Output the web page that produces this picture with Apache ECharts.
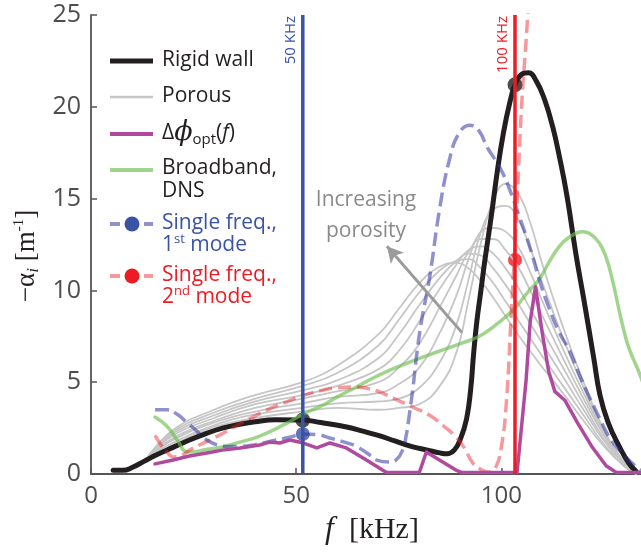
<!DOCTYPE html>
<html><head><meta charset="utf-8">
<script src="https://cdn.jsdelivr.net/npm/echarts@6/dist/echarts.min.js"></script>
<style>html,body{margin:0;padding:0;background:#fff}#c{width:641px;height:552px}</style>
</head><body><div id="c"></div>
<script>
// ---------- data ----------
const xTicks = [0, 50, 100];
const yTicks = [0, 5, 10, 15, 20, 25];
const f50 = 51.6;     // "50 KHz" marker line
const f100 = 103.3;   // "100 KHz" marker line

const rigidX = [5.4, 7.8, 10, 13, 16, 20, 24, 28, 32, 36, 40, 45, 51.5, 56, 62, 66, 70, 74, 78, 82, 85, 86.7, 88.5, 90, 91.5, 92.5, 93.2, 94, 95, 96, 97.5, 99, 100.5, 102, 103.3, 104.8, 106.6, 108.5, 110.5, 112.5, 114.2, 116, 118.2, 120, 122.5, 124, 126, 128.7, 131, 132.8];
const rigidY = [0.2, 0.2, 0.35, 0.7, 1.05, 1.45, 1.85, 2.2, 2.5, 2.7, 2.85, 2.95, 2.94, 2.8, 2.57, 2.35, 2.1, 1.8, 1.5, 1.3, 1.15, 1.1, 1.3, 1.9, 3.0, 4.6, 6.5, 8.3, 10.0, 11.7, 14.0, 16.5, 18.6, 20.2, 21.2, 21.75, 21.85, 21.4, 20.4, 18.9, 17.2, 15.1, 11.9, 9.6, 6.3, 4.3, 2.8, 1.5, 0.6, 0.15];

const porousX = [13.6, 20, 30, 40, 51.5, 60, 70, 75, 80, 85, 89, 92, 95, 98, 101, 104, 107, 110, 115, 120, 125, 130, 132.8];
const porous1 = [0.85, 2.4, 3.5, 4.3, 5.0, 5.9, 7.6, 9.0, 10.4, 11.3, 11.5, 11.2, 10.5, 9.6, 8.6, 7.6, 6.7, 5.8, 4.4, 2.9, 1.5, 0.4, 0];
const porous2 = [0.85, 2.3, 3.35, 4.1, 4.8, 5.5, 7.0, 8.4, 9.9, 11.1, 11.6, 11.7, 11.2, 10.4, 9.4, 8.4, 7.4, 6.4, 4.8, 3.2, 1.6, 0.4, 0];
const porous3 = [0.85, 2.2, 3.2, 3.95, 4.55, 5.1, 6.3, 7.6, 9.2, 10.7, 11.6, 12.0, 11.9, 11.2, 10.3, 9.3, 8.2, 7.1, 5.3, 3.5, 1.8, 0.5, 0];
const porous4 = [0.85, 2.1, 3.05, 3.8, 4.3, 4.8, 5.7, 6.7, 8.3, 10.1, 11.4, 12.2, 12.4, 12.0, 11.2, 10.2, 9.0, 7.8, 5.8, 3.8, 1.9, 0.5, 0];
const porous5 = [0.85, 1.95, 2.9, 3.6, 4.1, 4.5, 5.0, 5.8, 7.1, 9.1, 10.8, 12.1, 12.8, 12.8, 12.2, 11.3, 10.0, 8.6, 6.3, 4.1, 2.1, 0.5, 0];
const porous6 = [0.85, 1.85, 2.8, 3.4, 3.85, 4.2, 4.4, 4.9, 5.8, 7.7, 9.7, 11.7, 13.2, 13.4, 13.2, 12.4, 11.0, 9.4, 6.8, 4.4, 2.2, 0.6, 0];
const porous7 = [0.85, 1.7, 2.65, 3.25, 3.6, 3.85, 3.95, 4.1, 4.7, 6.1, 8.1, 10.6, 13.2, 14.4, 14.6, 13.9, 12.3, 10.4, 7.4, 4.7, 2.3, 0.6, 0];
const porous8 = [0.85, 1.6, 2.55, 3.05, 3.4, 3.6, 3.5, 3.6, 3.8, 4.8, 6.6, 9.5, 12.6, 14.9, 15.8, 15.3, 13.7, 11.4, 8.0, 5.0, 2.4, 0.6, 0];
const porousAll = [porous1, porous2, porous3, porous4, porous5, porous6, porous7, porous8];

const phaseX = [15.6, 20, 24, 28.2, 32, 36.3, 41.1, 43.5, 46, 48.4, 51.6, 55, 58.2, 62.2, 67.1, 72, 80, 81.7, 89, 90.5, 103.8, 106, 107, 108.3, 110, 111.5, 113, 115.5, 118.5, 122, 125.5, 128, 134];
const phaseY = [0.55, 0.76, 0.98, 1.14, 1.3, 1.42, 1.58, 1.74, 1.69, 1.85, 1.7, 1.42, 1.69, 1.42, 0.76, 0.08, 0.08, 1.2, 0.2, 0.08, 0.08, 5.1, 8.3, 10.2, 7.6, 5.6, 4.5, 4.0, 2.8, 1.5, 0.45, 0.08, 0.08];

const dnsX = [15.6, 18.5, 21, 23.4, 24.8, 28, 32, 36, 40.3, 44, 48.4, 52, 56.5, 60, 64.7, 68.5, 72.8, 76, 80, 85, 90, 94.6, 98.5, 102.7, 106.8, 109.2, 111.5, 114.1, 116.5, 119.7, 121.5, 123.8, 125.5, 127, 129.4, 131, 133.6, 135];
const dnsY = [3.1, 2.6, 1.85, 1.2, 1.2, 1.33, 1.47, 1.72, 2.0, 2.35, 2.85, 3.3, 3.75, 4.2, 4.74, 5.2, 5.66, 5.95, 6.3, 6.7, 7.1, 7.5, 8.1, 8.9, 10.0, 10.6, 11.5, 12.4, 12.9, 13.2, 13.1, 12.6, 11.8, 10.6, 8.2, 6.9, 5.5, 4.6];

const mode1X = [15.6, 18.5, 21, 23.4, 25.5, 27.3, 29, 30.6, 33, 36, 40, 44, 48.4, 51.6, 55, 58.2, 61.5, 64.7, 67.5, 69.6, 72.7, 74.5, 75.9, 76.8, 77.6, 78.5, 79.3, 80.5, 82.5, 84.9, 87.3, 89.5, 92.3, 94.5, 96.5, 98.5, 100.3, 102.5, 104.4, 107, 109.2, 111.5, 114.1, 116.5, 119, 121.4, 124, 126.3, 129.5, 132.8, 134];
const mode1Y = [3.5, 3.5, 3.25, 2.8, 2.4, 2.0, 1.75, 1.6, 1.5, 1.5, 1.6, 1.8, 2.0, 2.18, 2.15, 1.96, 1.75, 1.5, 1.1, 0.76, 0.65, 0.8, 1.3, 2.1, 3.3, 4.8, 6.4, 8.3, 10.7, 14.4, 17.1, 18.5, 19.0, 18.7, 17.8, 17.1, 16.4, 15.2, 14.0, 12.3, 10.6, 9.1, 7.7, 6.75, 5.4, 4.2, 3.0, 2.0, 1.1, 0.4, 0.2];

const mode2X = [15.6, 17, 18.5, 20, 22, 24, 28, 32, 36, 40.3, 44, 48.4, 52, 56.5, 60, 64.7, 67.5, 70.3, 74, 78.3, 82.5, 86, 89, 91, 93, 95, 97, 98.5, 100, 101.2, 102.4, 103.6, 104.9, 106, 107];
const mode2Y = [2.1, 1.6, 1.2, 0.93, 1.0, 1.3, 1.75, 2.2, 2.7, 3.2, 3.6, 4.0, 4.3, 4.57, 4.7, 4.74, 4.65, 4.47, 4.1, 3.65, 3.2, 2.6, 2.0, 1.4, 0.6, 0.25, 0.1, 0.3, 1.5, 3.9, 8.8, 13.8, 20.0, 23.6, 27.0];

const rigidDots = [[f50, 2.94], [f100, 21.2]];
const mode1Dot = [[f50, 2.18]];
const mode2Dot = [[f100, 11.66]];
const arrowTail = [90.4, 7.7];
const arrowHead = [72.1, 12.4];

// ---------- styles ----------
const SANS = '"Open Sans", sans-serif';
const SERIF = '"Liberation Serif", serif';
const C_BLACK = '#231F20', C_GRAY = '#C6C6C6', C_MAG = '#B04A9F';
const C_GREEN = 'rgba(110,190,80,0.65)', C_BLUEDASH = 'rgba(40,45,160,0.52)', C_REDDASH = 'rgba(237,28,36,0.45)';
const C_BLUE = '#3A53A4', C_RED = '#ED1C24';

const zip = (xs, ys) => xs.map((x, i) => [x, ys[i]]);
const lineSeries = (data, color, width, extra) => Object.assign({
  type: 'line', data, showSymbol: false, symbol: 'none', smooth: 0.45,
  lineStyle: { color, width, cap: 'round', join: 'round' }, silent: true, animation: false
}, extra || {});

const series = [];
porousAll.forEach((ys, i) => {
  const s = lineSeries(zip(porousX, ys), C_GRAY, 1.8);
  if (i === 0) {
    s.markLine = {
      silent: true, symbol: ['none', 'arrow'], symbolSize: [13, 16], animation: false,
      lineStyle: { color: '#9B9B9B', width: 3, type: 'solid' }, label: { show: false },
      data: [[{ coord: arrowTail }, { coord: arrowHead }]]
    };
  }
  series.push(s);
});
series.push(lineSeries(zip(rigidX, rigidY), C_BLACK, 5));
series.push(lineSeries(zip(dnsX, dnsY), C_GREEN, 3.5));
series.push(lineSeries(zip(mode2X, mode2Y), C_REDDASH, 3.5, { lineStyle: { color: C_REDDASH, width: 3.5, type: [13, 6] } }));
series.push(lineSeries(zip(mode1X, mode1Y), C_BLUEDASH, 3.5, { lineStyle: { color: C_BLUEDASH, width: 3.5, type: [14, 6] } }));
series.push(lineSeries(zip(phaseX, phaseY), C_MAG, 3.5, { smooth: false }));
series.push(lineSeries([[f50, 0], [f50, 25]], C_BLUE, 3.5, { smooth: false, lineStyle: { color: C_BLUE, width: 3.5 } }));
series.push(lineSeries([[f100, 0], [f100, 25]], C_RED, 3.5, { smooth: false, lineStyle: { color: C_RED, width: 3.5 } }));
series.push({ type: 'scatter', data: rigidDots, symbolSize: 15, itemStyle: { color: C_BLACK }, silent: true, animation: false });
series.push({ type: 'scatter', data: mode1Dot, symbolSize: 14, itemStyle: { color: C_BLUE }, silent: true, animation: false });
series.push({ type: 'scatter', data: mode2Dot, symbolSize: 14, itemStyle: { color: C_RED }, silent: true, animation: false });

const chart = echarts.init(document.getElementById('c'), null, { renderer: 'canvas' });
chart.setOption({
  animation: false,
  backgroundColor: '#fff',
  grid: { left: 91, right: 0, top: 15, bottom: 78, containLabel: false },
  xAxis: {
    type: 'value', min: 0, max: 134, interval: 50,
    axisLine: { lineStyle: { color: '#555', width: 1.8 } },
    axisTick: { inside: true, length: 6, lineStyle: { color: '#555', width: 1.5 } },
    axisLabel: { color: '#4D4D4D', fontSize: 24, fontFamily: SANS, margin: 10, showMaxLabel: false,
      formatter: v => xTicks.includes(v) ? String(v) : '' },
    splitLine: { show: false }
  },
  yAxis: {
    type: 'value', min: 0, max: 25, interval: 5,
    axisLine: { show: true, lineStyle: { color: '#555', width: 1.8 } },
    axisTick: { show: true, inside: true, length: 6, lineStyle: { color: '#555', width: 1.5 } },
    axisLabel: { color: '#4D4D4D', fontSize: 25, fontFamily: SANS, margin: 10,
      formatter: v => yTicks.includes(v) ? String(v) : '' },
    splitLine: { show: false }
  },
  series
});

// ---------- annotations / legend (graphic) ----------
const p50 = chart.convertToPixel({ gridIndex: 0 }, [f50, 25]);
const p100 = chart.convertToPixel({ gridIndex: 0 }, [f100, 25]);
const LX0 = 110, LX1 = 153, TX = 162, FS = 21;

const g = [];
const legLine = (y, color, width, dash) => g.push({ type: 'line', shape: { x1: LX0, y1: y, x2: LX1, y2: y }, style: { stroke: color, lineWidth: width, lineDash: dash || null }, z: 100 });
const legText = (y, text, color) => g.push({ type: 'text', x: TX, y, style: { text, fill: color, fontSize: FS, fontFamily: SANS, align: 'left', verticalAlign: 'middle', lineHeight: 22 }, z: 100 });

legLine(61, C_BLACK, 5); legText(60, 'Rigid wall', C_BLACK);
legLine(97, C_GRAY, 2.5); legText(96, 'Porous', C_BLACK);
legLine(134, C_MAG, 4);
g.push({ type: 'text', x: TX, y: 133, z: 100, style: {
  text: '{n|Δ}{phi|ϕ}{sub|opt}{n|(}{it|f}{n|)}', fill: C_BLACK, align: 'left', verticalAlign: 'middle',
  rich: {
    n: { fontSize: FS, fontFamily: SANS, lineHeight: 28, fill: C_BLACK },
    phi: { fontSize: 27, fontFamily: '"DejaVu Serif", serif', fontStyle: 'italic', lineHeight: 28, fill: C_BLACK },
    sub: { fontSize: 15, fontFamily: SANS, lineHeight: 18, verticalAlign: 'bottom', fill: C_BLACK },
    it: { fontSize: FS, fontFamily: SANS, fontStyle: 'italic', lineHeight: 28, fill: C_BLACK }
  } } });
legLine(170, C_GREEN, 4); legText(168, 'Broadband,', C_BLACK); legText(191, 'DNS', C_BLACK);

legLine(224, C_BLUEDASH, 4, [10, 24]);
g.push({ type: 'circle', shape: { cx: 132, cy: 224, r: 7.5 }, style: { fill: C_BLUE }, z: 101 });
legText(223, 'Single freq.,', C_BLUE);
const supRich = (col) => ({
  n: { fontSize: FS, fontFamily: SANS, lineHeight: 24, fill: col },
  sup: { fontSize: 13, fontFamily: SANS, lineHeight: 13, verticalAlign: 'top', fill: col }
});
g.push({ type: 'text', x: TX, y: 245, z: 100, style: { text: '{n|1}{sup|st}{n| mode}', align: 'left', verticalAlign: 'middle', rich: supRich(C_BLUE) } });

legLine(276, C_REDDASH, 4, [10, 24]);
g.push({ type: 'circle', shape: { cx: 132, cy: 276, r: 7.5 }, style: { fill: C_RED }, z: 101 });
legText(275, 'Single freq.,', C_RED);
g.push({ type: 'text', x: TX, y: 297, z: 100, style: { text: '{n|2}{sup|nd}{n| mode}', align: 'left', verticalAlign: 'middle', rich: supRich(C_RED) } });

// vertical marker labels
g.push({ type: 'text', x: p50[0] - 12, y: 16, rotation: Math.PI / 2, z: 100,
  style: { text: '50 KHz', fill: C_BLUE, fontSize: 15, fontFamily: SANS, align: 'right', verticalAlign: 'middle' } });
g.push({ type: 'text', x: p100[0] - 12, y: 16, rotation: Math.PI / 2, z: 100,
  style: { text: '100 KHz', fill: C_RED, fontSize: 15, fontFamily: SANS, align: 'right', verticalAlign: 'middle' } });

// Increasing porosity
g.push({ type: 'text', x: 366, y: 216, z: 100,
  style: { text: 'Increasing\nporosity', fill: '#8A8A8A', fontSize: 21, fontFamily: SANS, align: 'center', verticalAlign: 'middle', lineHeight: 31 } });

// axis names
g.push({ type: 'text', x: 372, y: 530, z: 100, style: {
  text: '{it|f}{n|  [kHz]}', align: 'center', verticalAlign: 'middle',
  rich: {
    it: { fontSize: 32, fontFamily: SERIF, fontStyle: 'italic', fill: '#231F20', lineHeight: 34 },
    n: { fontSize: 30, fontFamily: SERIF, fill: '#231F20', lineHeight: 34 }
  } } });
g.push({ type: 'text', x: 27, y: 256, rotation: Math.PI / 2, z: 100, style: {
  text: '{n|−α}{sub|i}{n| [m}{sup|-1}{n|]}', align: 'center', verticalAlign: 'middle',
  rich: {
    n: { fontSize: 27, fontFamily: SERIF, fill: '#231F20', lineHeight: 30 },
    sub: { fontSize: 17, fontFamily: SERIF, fontStyle: 'italic', fill: '#231F20', lineHeight: 18, verticalAlign: 'bottom' },
    sup: { fontSize: 15, fontFamily: SERIF, fill: '#231F20', lineHeight: 15, verticalAlign: 'top' }
  } } });

chart.setOption({ graphic: g });
</script>
</body></html>
